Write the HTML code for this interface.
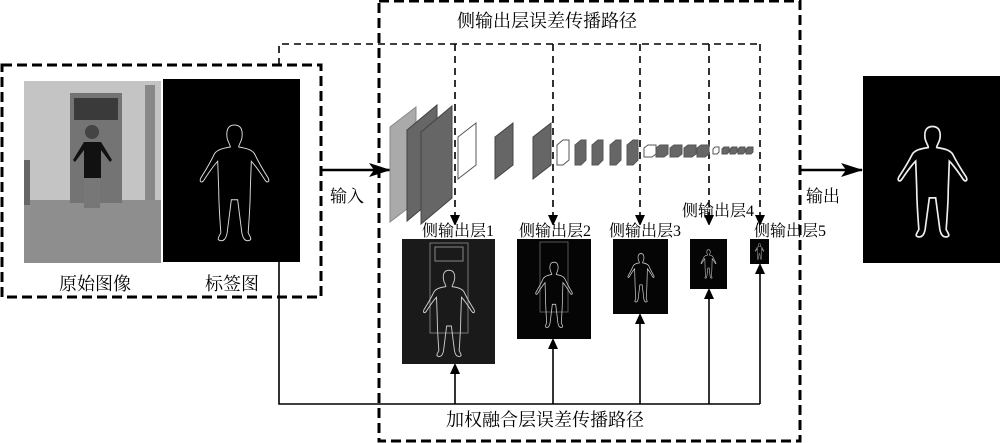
<!DOCTYPE html>
<html><head><meta charset="utf-8"><style>
body{margin:0;background:#fff;}
svg{display:block}
text{font-family:"Liberation Serif","Noto Serif CJK SC","Noto Sans CJK SC",serif;fill:#000}
</style></head><body>
<svg width="1000" height="443" viewBox="0 0 1000 443" xmlns="http://www.w3.org/2000/svg">
<defs>
<marker id="ah" markerWidth="10" markerHeight="12" refX="9" refY="6" orient="auto" markerUnits="userSpaceOnUse"><path d="M0,1 L11,6 L0,11 Z" fill="#000"/></marker>
<marker id="ab" markerWidth="22" markerHeight="16" refX="21" refY="8" orient="auto" markerUnits="userSpaceOnUse"><path d="M0,1 L22,8 L0,15 L5,8 Z" fill="#000"/></marker>
<path id="person" d="M50,10 C43,10 42,16 43,22 C44,26 46,28 46,30 C40,31 34,32 31,36 C27,44 22,52 18,58 C16,62 19,63 21,60 C25,54 30,47 34,43 L35,70 C35,82 36,95 37,108 C35,112 33,114 36,115 C40,116 42,113 43,108 L47,78 L53,78 L57,108 C58,113 60,116 64,115 C67,114 65,112 63,108 C64,95 65,82 65,70 L66,43 C70,47 75,54 79,60 C81,63 84,62 82,58 C78,52 73,44 69,36 C66,32 60,31 54,30 C54,28 56,26 57,22 C58,16 57,10 50,10 Z" fill="none"/>
</defs>

<rect x="2" y="65" width="319" height="232" fill="none" stroke="#000" stroke-width="3" stroke-dasharray="10,5"/>
<rect x="24" y="81" width="137" height="182" fill="#c4c4c4"/>
<rect x="24" y="200" width="137" height="63" fill="#8e8e8e"/>
<rect x="70" y="93" width="52" height="110" fill="#747474"/>
<rect x="74" y="98" width="44" height="22" fill="#3a3a3a"/>
<rect x="24" y="160" width="6" height="45" fill="#666"/>
<rect x="145" y="85" width="10" height="115" fill="#888"/>
<path d="M84,142 L101,142 L112,160 L110,162 L101,150 L101,178 L84,178 L84,150 L75,162 L73,160 Z" fill="#111"/>
<rect x="84" y="178" width="16" height="30" fill="#777"/>
<circle cx="92" cy="132" r="7" fill="#444"/>
<rect x="163" y="79" width="137" height="183" fill="#000"/>
<g transform="translate(182,114) scale(1.05,1.1)"><use href="#person" stroke="#ddd" stroke-width="0.9"/></g>
<text x="95" y="290" font-size="18" text-anchor="middle">原始图像</text>
<text x="232" y="290" font-size="18" text-anchor="middle">标签图</text>

<rect x="379" y="1" width="421" height="440" fill="none" stroke="#000" stroke-width="3" stroke-dasharray="10,5"/>
<text x="547" y="27" font-size="18" text-anchor="middle">侧输出层误差传播路径</text>

<path d="M279,65 L279,44 L760,44" fill="none" stroke="#000" stroke-width="1.6" stroke-dasharray="7,5"/>
<g stroke="#000" stroke-width="1.6" stroke-dasharray="7,5" fill="none">
<path d="M455,44 L455,224" marker-end="url(#ah)"/>
<path d="M553,44 L553,224" marker-end="url(#ah)"/>
<path d="M640,44 L640,224" marker-end="url(#ah)"/>
<path d="M709,44 L709,224" marker-end="url(#ah)"/>
<path d="M760,44 L760,224" marker-end="url(#ah)"/>
</g>

<line x1="321" y1="170" x2="390" y2="170" stroke="#000" stroke-width="2.5" marker-end="url(#ab)"/>
<text x="347" y="202" font-size="17" text-anchor="middle">输入</text>
<line x1="800" y1="170" x2="862" y2="170" stroke="#000" stroke-width="2.5" marker-end="url(#ab)"/>
<text x="823" y="202" font-size="17" text-anchor="middle">输出</text>

<polygon points="390,127 416,107 416,202 390,222" fill="#aaa" stroke="#888"/>
<polygon points="407,130 437,105 437,196 407,221" fill="#666" stroke="#444"/>
<polygon points="421,132 452,106 452,198 421,224" fill="#666" stroke="#444"/>
<polygon points="458,137 476,123 476,165 458,179" fill="#fff" stroke="#555"/>
<polygon points="495,137 513,123 513,165 495,179" fill="#666" stroke="#444"/>
<polygon points="533,137 551,123 551,165 533,179" fill="#666" stroke="#444"/>
<g stroke="#555">
<polygon points="557,145 563,140 569,140 569,160 563,165 557,165" fill="#fff"/>
<polygon points="575,145 581,140 586,140 586,160 581,165 575,165" fill="#666"/>
<polygon points="592,145 598,140 603,140 603,160 598,165 592,165" fill="#666"/>
<polygon points="610,145 616,140 621,140 621,160 616,165 610,165" fill="#666"/>
<polygon points="627,145 633,140 638,140 638,160 633,165 627,165" fill="#666"/>
<polygon points="644,148 648,145 656,145 656,154 652,157 644,157" fill="#fff"/>
<polygon points="656,148 660,145 668,145 668,154 664,157 656,157" fill="#666"/>
<polygon points="670,148 674,145 682,145 682,154 678,157 670,157" fill="#666"/>
<polygon points="684,148 688,145 696,145 696,154 692,157 684,157" fill="#666"/>
<polygon points="697,148 701,145 709,145 709,154 705,157 697,157" fill="#666"/>
<polygon points="713,149 715,147 719,147 719,152 717,154 713,154" fill="#fff"/>
<polygon points="722,149 724,147 729,147 729,152 727,154 722,154" fill="#666"/>
<polygon points="730,149 732,147 737,147 737,152 735,154 730,154" fill="#666"/>
<polygon points="738,149 740,147 745,147 745,152 743,154 738,154" fill="#666"/>
<polygon points="746,149 748,147 753,147 753,152 751,154 746,154" fill="#666"/>
</g>

<g font-size="16">
<text x="458" y="236" text-anchor="middle">侧输出层1</text>
<text x="555" y="236" text-anchor="middle">侧输出层2</text>
<text x="645" y="236" text-anchor="middle">侧输出层3</text>
<text x="718" y="216" text-anchor="middle">侧输出层4</text>
<text x="790" y="236" text-anchor="middle">侧输出层5</text>
</g>
<rect x="402" y="239" width="93" height="125" fill="#1a1a1a"/>
<rect x="430" y="243" width="38" height="90" fill="none" stroke="#777" stroke-width="1"/>
<rect x="435" y="247" width="28" height="14" fill="none" stroke="#888"/>
<g transform="translate(410,262) scale(0.78,0.82)"><use href="#person" stroke="#ccc" stroke-width="1.2"/></g>
<rect x="517" y="239" width="74" height="100" fill="#050505"/>
<rect x="540" y="242" width="28" height="70" fill="none" stroke="#555"/>
<g transform="translate(526,256) scale(0.56,0.62)"><use href="#person" stroke="#ccc" stroke-width="1.4"/></g>
<rect x="613" y="239" width="55" height="75" fill="#050505"/>
<g transform="translate(621,249) scale(0.4,0.46)"><use href="#person" stroke="#ccc" stroke-width="1.8"/></g>
<rect x="690" y="239" width="37" height="50" fill="#050505"/>
<g transform="translate(697,247) scale(0.23,0.27)"><use href="#person" stroke="#ccc" stroke-width="2.5"/></g>
<rect x="750" y="239" width="19" height="25" fill="#050505"/>
<g transform="translate(753,242) scale(0.13,0.15)"><use href="#person" stroke="#aaa" stroke-width="4"/></g>

<path d="M279,262 L279,404 L760,404" fill="none" stroke="#000" stroke-width="1.6"/>
<g stroke="#000" stroke-width="1.6">
<line x1="455" y1="404" x2="455" y2="365" marker-end="url(#ah)"/>
<line x1="553" y1="404" x2="553" y2="340" marker-end="url(#ah)"/>
<line x1="640" y1="404" x2="640" y2="315" marker-end="url(#ah)"/>
<line x1="709" y1="404" x2="709" y2="290" marker-end="url(#ah)"/>
<line x1="760" y1="404" x2="760" y2="265" marker-end="url(#ah)"/>
</g>
<text x="545" y="426" font-size="18" text-anchor="middle">加权融合层误差传播路径</text>

<rect x="863" y="76" width="137" height="187" fill="#000"/>
<g transform="translate(880,116) scale(1.05,1.05)"><use href="#person" stroke="#eee" stroke-width="1.6"/></g>
</svg>
</body></html>
